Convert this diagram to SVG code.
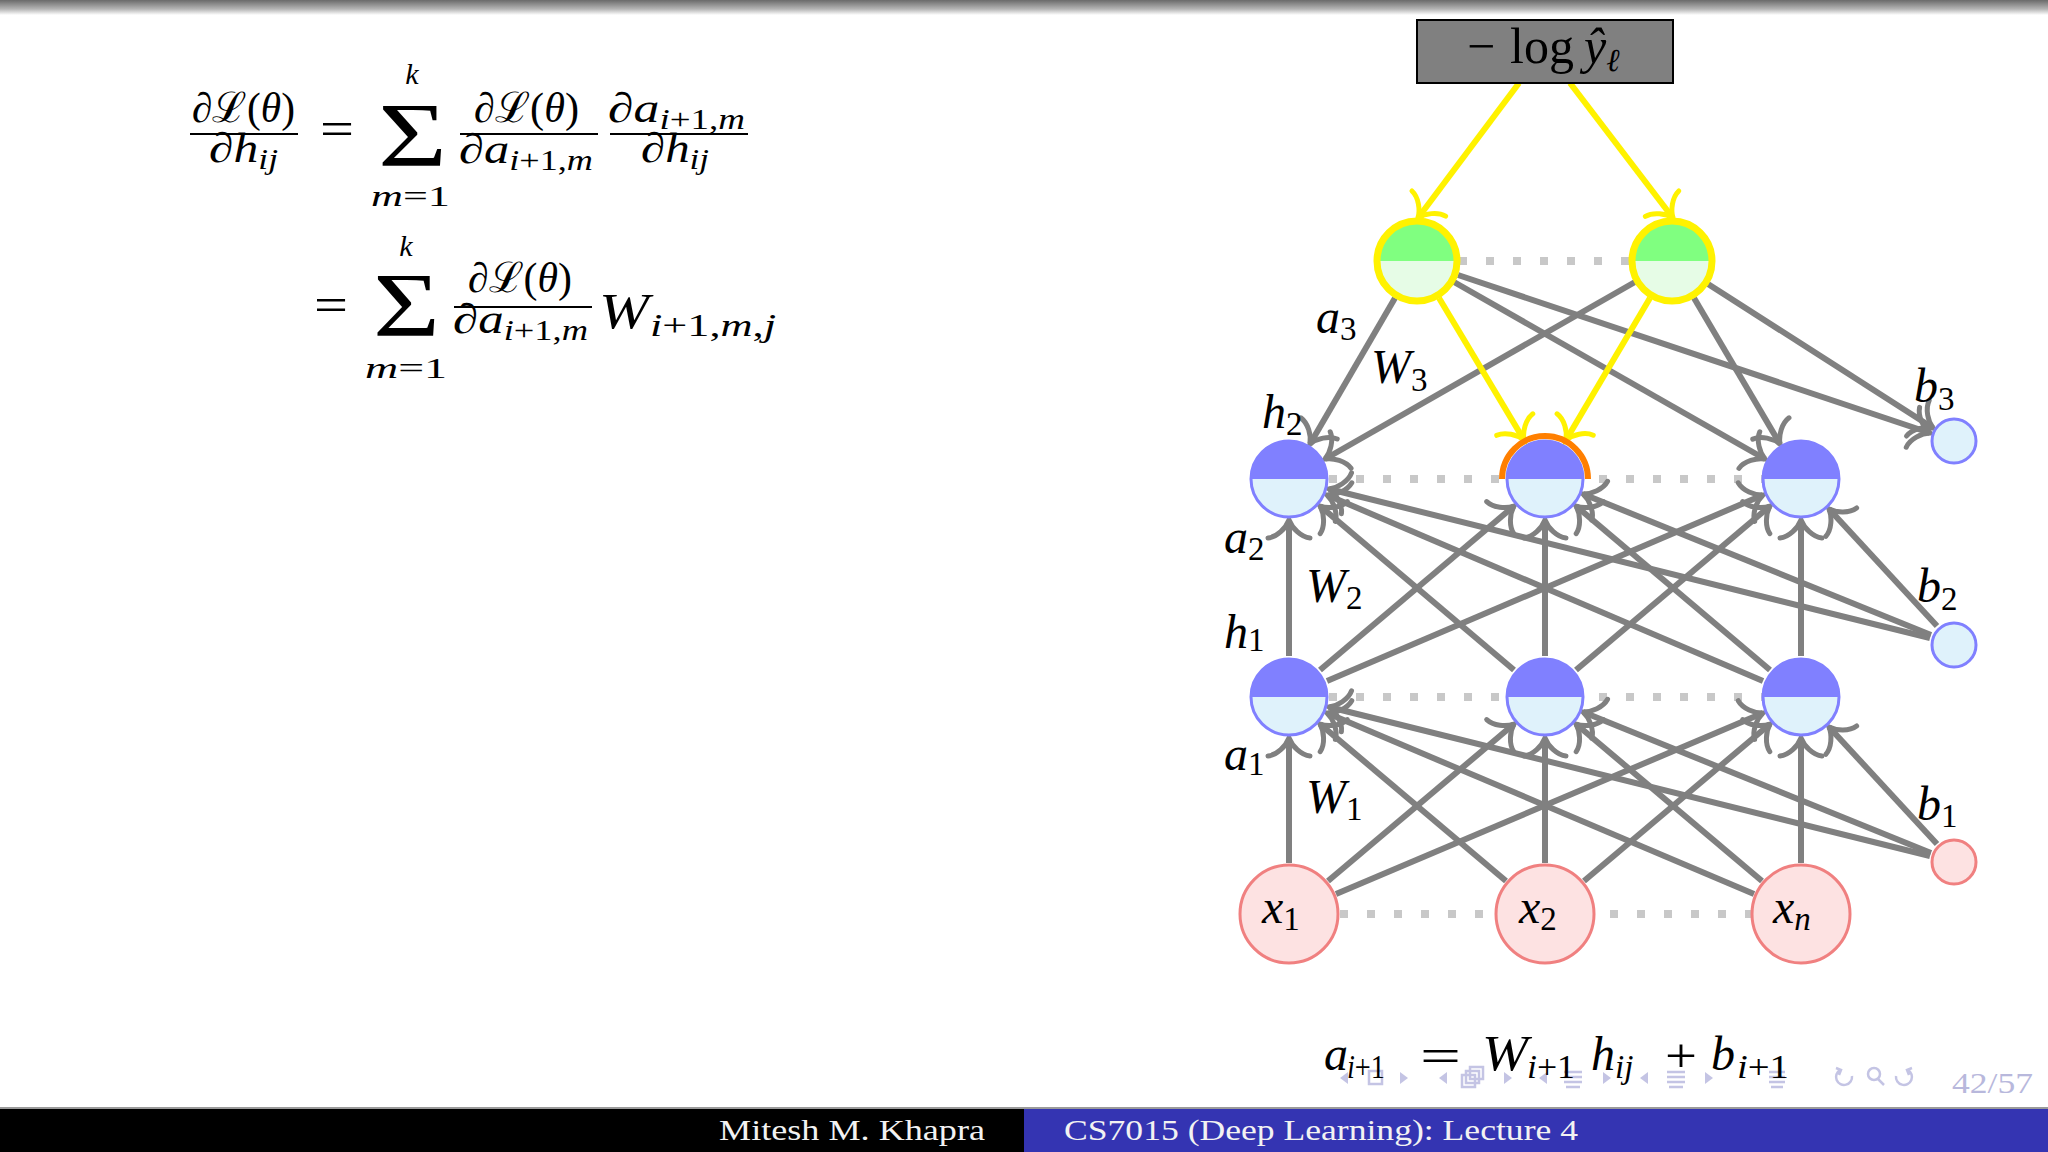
<svg xmlns="http://www.w3.org/2000/svg" width="2048" height="1152" viewBox="0 0 2048 1152">
<defs>
<style>
.t{font-family:"Liberation Serif","DejaVu Serif",serif;fill:#000}
.i{font-style:italic}
.e{stroke:#808080;stroke-width:6;fill:none;marker-end:url(#ag)}
.y{stroke:#fff200;stroke-width:6;fill:none;marker-end:url(#ay)}
.d{stroke:#c8c8c8;stroke-width:8;stroke-dasharray:8 19;fill:none}
.nav{fill:none;stroke:#c4c4e4;stroke-width:2.5}
.navf{fill:#c4c4e4}
.ft{font-family:"Liberation Serif","DejaVu Serif",serif;fill:#f2f2f2;font-size:29px}
.bar{stroke:#000;stroke-width:2}
</style>
<linearGradient id="topg" x1="0" y1="0" x2="0" y2="1">
<stop offset="0" stop-color="#6a6a6a"/>
<stop offset="0.6" stop-color="#b4b4b4"/>
<stop offset="1" stop-color="#ffffff"/>
</linearGradient>
<marker id="ag" markerUnits="userSpaceOnUse" viewBox="-24 -26 28 52" refX="0" refY="0" markerWidth="28" markerHeight="52" orient="auto" overflow="visible">
<path d="M-18,-21 C-17,-12 -8,-3 0,0 C-8,3 -17,12 -18,21" fill="none" stroke="#808080" stroke-width="5" stroke-linecap="round"/>
</marker>
<marker id="ay" markerUnits="userSpaceOnUse" viewBox="-24 -26 28 52" refX="0" refY="0" markerWidth="28" markerHeight="52" orient="auto" overflow="visible">
<path d="M-18,-21 C-17,-12 -8,-3 0,0 C-8,3 -17,12 -18,21" fill="none" stroke="#fff200" stroke-width="5" stroke-linecap="round"/>
</marker>
<g id="hn">
<circle r="38" fill="#dff2fb"/>
<path d="M-38,0 A38,38 0 0 1 38,0 Z" fill="#8080ff"/>
<circle r="38" fill="none" stroke="#8080ff" stroke-width="3"/>
</g>
<g id="gn">
<circle r="40" fill="#e6fce6"/>
<path d="M-40,0 A40,40 0 0 1 40,0 Z" fill="#80ff80"/>
<circle r="40" fill="none" stroke="#fff200" stroke-width="7"/>
</g>
<circle id="xn" r="49" fill="#fde2e2" stroke="#f08080" stroke-width="3"/>
<circle id="bb" r="22" fill="#dff2fb" stroke="#8080ff" stroke-width="3"/>
<circle id="bp" r="22" fill="#fde2e2" stroke="#f08080" stroke-width="3"/>
</defs>

<rect width="2048" height="1152" fill="#ffffff"/>
<rect x="0" y="0" width="2048" height="15" fill="url(#topg)"/>

<!-- formula -->
<g id="formula">
<text class="t" x="192" y="122" font-size="42" textLength="103" lengthAdjust="spacingAndGlyphs">∂ℒ(<tspan class="i">θ</tspan>)</text>
<line class="bar" x1="190" y1="134" x2="298" y2="134"/>
<text class="t" x="209" y="162" font-size="42" textLength="69" lengthAdjust="spacingAndGlyphs">∂<tspan class="i">h</tspan><tspan class="i" font-size="30" dy="7">ij</tspan></text>
<text class="t" x="320" y="145" font-size="48" textLength="34" lengthAdjust="spacingAndGlyphs">=</text>
<text class="t" x="378" y="166" font-size="92" textLength="69" lengthAdjust="spacingAndGlyphs">Σ</text>
<text class="t i" x="412" y="84" text-anchor="middle" font-size="30">k</text>
<text class="t" x="371" y="206" font-size="30" textLength="79" lengthAdjust="spacingAndGlyphs"><tspan class="i">m</tspan>=1</text>
<text class="t" x="474" y="122" font-size="42" textLength="105" lengthAdjust="spacingAndGlyphs">∂ℒ(<tspan class="i">θ</tspan>)</text>
<line class="bar" x1="460" y1="134" x2="598" y2="134"/>
<text class="t" x="459" y="163" font-size="42" textLength="134" lengthAdjust="spacingAndGlyphs">∂<tspan class="i">a</tspan><tspan font-size="30" dy="7"><tspan class="i">i</tspan>+1,<tspan class="i">m</tspan></tspan></text>
<text class="t" x="608" y="122" font-size="42" textLength="137" lengthAdjust="spacingAndGlyphs">∂<tspan class="i">a</tspan><tspan font-size="30" dy="7"><tspan class="i">i</tspan>+1,<tspan class="i">m</tspan></tspan></text>
<line class="bar" x1="610" y1="134" x2="748" y2="134"/>
<text class="t" x="641" y="162" font-size="42" textLength="68" lengthAdjust="spacingAndGlyphs">∂<tspan class="i">h</tspan><tspan class="i" font-size="30" dy="7">ij</tspan></text>

<text class="t" x="314" y="321" font-size="48" textLength="34" lengthAdjust="spacingAndGlyphs">=</text>
<text class="t" x="373" y="336" font-size="92" textLength="67" lengthAdjust="spacingAndGlyphs">Σ</text>
<text class="t i" x="406" y="256" text-anchor="middle" font-size="30">k</text>
<text class="t" x="365" y="378" font-size="30" textLength="82" lengthAdjust="spacingAndGlyphs"><tspan class="i">m</tspan>=1</text>
<text class="t" x="468" y="292" font-size="42" textLength="104" lengthAdjust="spacingAndGlyphs">∂ℒ(<tspan class="i">θ</tspan>)</text>
<line class="bar" x1="454" y1="307" x2="592" y2="307"/>
<text class="t" x="453" y="333" font-size="42" textLength="135" lengthAdjust="spacingAndGlyphs">∂<tspan class="i">a</tspan><tspan font-size="30" dy="7"><tspan class="i">i</tspan>+1,<tspan class="i">m</tspan></tspan></text>
<text class="t i" x="599" y="328" font-size="50" textLength="50" lengthAdjust="spacingAndGlyphs">W</text>
<text class="t" x="650" y="336" font-size="32" textLength="126" lengthAdjust="spacingAndGlyphs"><tspan class="i">i</tspan>+1,<tspan class="i">m</tspan>,<tspan class="i">j</tspan></text>
</g>

<!-- dotted layer lines -->
<g id="dots">
<line class="d" x1="1459" y1="261" x2="1632" y2="261"/>
<line class="d" x1="1329" y1="479" x2="1762" y2="479"/>
<line class="d" x1="1329" y1="697" x2="1762" y2="697"/>
<line class="d" x1="1340" y1="914" x2="1752" y2="914"/>
</g>

<!-- connectors -->
<g id="connectors">
<line class="e" x1="1395" y1="298" x2="1310" y2="444"/>
<line class="e" x1="1454" y1="282" x2="1765" y2="459"/>
<line class="e" x1="1458" y1="275" x2="1930" y2="433"/>
<line class="e" x1="1635" y1="282" x2="1325" y2="459"/>
<line class="e" x1="1694" y1="298" x2="1780" y2="444"/>
<line class="e" x1="1708" y1="284" x2="1933" y2="428"/>
<line class="e" x1="1289" y1="656" x2="1289" y2="520"/>
<line class="e" x1="1320" y1="670" x2="1514" y2="506"/>
<line class="e" x1="1327" y1="681" x2="1763" y2="495"/>
<line class="e" x1="1514" y1="670" x2="1320" y2="506"/>
<line class="e" x1="1545" y1="656" x2="1545" y2="520"/>
<line class="e" x1="1576" y1="670" x2="1770" y2="506"/>
<line class="e" x1="1763" y1="681" x2="1327" y2="495"/>
<line class="e" x1="1770" y1="670" x2="1576" y2="506"/>
<line class="e" x1="1801" y1="656" x2="1801" y2="520"/>
<line class="e" x1="1930" y1="638" x2="1329" y2="489"/>
<line class="e" x1="1931" y1="635" x2="1583" y2="494"/>
<line class="e" x1="1937" y1="626" x2="1829" y2="509"/>
<line class="e" x1="1289" y1="863" x2="1289" y2="738"/>
<line class="e" x1="1328" y1="881" x2="1514" y2="724"/>
<line class="e" x1="1336" y1="894" x2="1763" y2="713"/>
<line class="e" x1="1506" y1="881" x2="1320" y2="724"/>
<line class="e" x1="1545" y1="863" x2="1545" y2="738"/>
<line class="e" x1="1584" y1="881" x2="1770" y2="724"/>
<line class="e" x1="1754" y1="894" x2="1327" y2="713"/>
<line class="e" x1="1762" y1="881" x2="1576" y2="724"/>
<line class="e" x1="1801" y1="863" x2="1801" y2="738"/>
<line class="e" x1="1930" y1="856" x2="1329" y2="707"/>
<line class="e" x1="1931" y1="853" x2="1583" y2="712"/>
<line class="e" x1="1937" y1="844" x2="1829" y2="727"/>
<line class="y" x1="1519" y1="83" x2="1418" y2="218"/>
<line class="y" x1="1570" y1="83" x2="1673" y2="218"/>
<line class="y" x1="1439" y1="298" x2="1524" y2="440"/>
<line class="y" x1="1650" y1="298" x2="1566" y2="440"/>
</g>

<!-- loss box -->
<g id="loss">
<rect x="1417" y="20" width="256" height="63" fill="#808080" stroke="#000" stroke-width="2"/>
<text class="t" x="1467" y="63" font-size="50">−<tspan x="1510">log</tspan><tspan class="i" x="1584">ŷ</tspan><tspan class="i" font-size="32" dy="8">ℓ</tspan></text>
</g>

<!-- nodes -->
<g id="o1"><use href="#gn" x="1417" y="261"/></g>
<g id="o2"><use href="#gn" x="1672" y="261"/></g>
<g id="h2_1"><use href="#hn" x="1289" y="479"/></g>
<g id="h2_2"><use href="#hn" x="1545" y="479"/><path d="M1502,479 A43,43 0 0 1 1588,479" fill="none" stroke="#ff7f00" stroke-width="6"/></g>
<g id="h2_3"><use href="#hn" x="1801" y="479"/></g>
<g id="h1_1"><use href="#hn" x="1289" y="697"/></g>
<g id="h1_2"><use href="#hn" x="1545" y="697"/></g>
<g id="h1_3"><use href="#hn" x="1801" y="697"/></g>
<g id="x1"><use href="#xn" x="1289" y="914"/><text class="t" x="1262" y="923" font-size="48"><tspan class="i">x</tspan><tspan font-size="33" dy="7">1</tspan></text></g>
<g id="x2"><use href="#xn" x="1545" y="914"/><text class="t" x="1519" y="923" font-size="48"><tspan class="i">x</tspan><tspan font-size="33" dy="7">2</tspan></text></g>
<g id="xnn"><use href="#xn" x="1801" y="914"/><text class="t" x="1773" y="923" font-size="48"><tspan class="i">x</tspan><tspan class="i" font-size="33" dy="7">n</tspan></text></g>
<g id="b3"><use href="#bb" x="1954" y="441"/></g>
<g id="b2"><use href="#bb" x="1954" y="645"/></g>
<g id="b1"><use href="#bp" x="1954" y="862"/></g>

<!-- labels -->
<g id="labels">
<text class="t" x="1316" y="333" font-size="48"><tspan class="i">a</tspan><tspan font-size="33" dy="7">3</tspan></text>
<text class="t" x="1371" y="383" font-size="48"><tspan class="i">W</tspan><tspan font-size="33" dy="8">3</tspan></text>
<text class="t" x="1262" y="428" font-size="48"><tspan class="i">h</tspan><tspan font-size="33" dy="7">2</tspan></text>
<text class="t" x="1914" y="402" font-size="48"><tspan class="i">b</tspan><tspan font-size="33" dy="8">3</tspan></text>
<text class="t" x="1224" y="553" font-size="48"><tspan class="i">a</tspan><tspan font-size="33" dy="7">2</tspan></text>
<text class="t" x="1306" y="602" font-size="48"><tspan class="i">W</tspan><tspan font-size="33" dy="7">2</tspan></text>
<text class="t" x="1224" y="648" font-size="48"><tspan class="i">h</tspan><tspan font-size="33" dy="3">1</tspan></text>
<text class="t" x="1917" y="602" font-size="48"><tspan class="i">b</tspan><tspan font-size="33" dy="8">2</tspan></text>
<text class="t" x="1224" y="770" font-size="48"><tspan class="i">a</tspan><tspan font-size="33" dy="5">1</tspan></text>
<text class="t" x="1306" y="813" font-size="48"><tspan class="i">W</tspan><tspan font-size="33" dy="7">1</tspan></text>
<text class="t" x="1917" y="820" font-size="48"><tspan class="i">b</tspan><tspan font-size="33" dy="7">1</tspan></text>
</g>

<!-- navigation symbols (faint) -->
<g id="nav">
<polygon class="navf" points="1348,1072 1340,1078 1348,1084"/>
<rect class="nav" x="1369" y="1071" width="13" height="13"/>
<polygon class="navf" points="1400,1072 1408,1078 1400,1084"/>
<polygon class="navf" points="1447,1072 1439,1078 1447,1084"/>
<rect class="nav" x="1462" y="1075" width="13" height="12"/>
<rect class="nav" x="1466" y="1071" width="13" height="12"/>
<rect class="nav" x="1470" y="1067" width="13" height="12"/>
<polygon class="navf" points="1504,1072 1512,1078 1504,1084"/>
<polygon class="navf" points="1547,1072 1539,1078 1547,1084"/>
<path class="nav" d="M1564,1072 H1582 M1564,1077 H1582 M1564,1082 H1582 M1566,1087 H1580"/>
<polygon class="navf" points="1603,1072 1611,1078 1603,1084"/>
<polygon class="navf" points="1648,1072 1640,1078 1648,1084"/>
<path class="nav" d="M1667,1072 H1685 M1667,1077 H1685 M1667,1082 H1685 M1669,1087 H1683"/>
<polygon class="navf" points="1705,1072 1713,1078 1705,1084"/>
<path class="nav" d="M1769,1072 H1785 M1769,1077 H1785 M1769,1082 H1785 M1771,1087 H1783"/>
<path class="nav" d="M1840,1070 A8,8 0 1 0 1852,1076 M1836,1068 L1841,1070 L1839,1075"/>
<circle class="nav" cx="1874" cy="1074" r="6"/>
<path class="nav" d="M1878,1079 L1884,1085"/>
<path class="nav" d="M1908,1070 A8,8 0 1 1 1896,1076 M1912,1068 L1907,1070 L1909,1075"/>
<text x="1952" y="1093" font-family="Liberation Serif, DejaVu Serif, serif" font-size="29" fill="#b8b8dc" textLength="81" lengthAdjust="spacingAndGlyphs">42/57</text>
</g>

<!-- bottom equation -->
<g id="equation">
<text class="t i" x="1324" y="1070" font-size="48">a</text>
<text class="t" x="1347" y="1078" font-size="33" textLength="38" lengthAdjust="spacingAndGlyphs"><tspan class="i">i</tspan>+1</text>
<text class="t" x="1420" y="1072" font-size="48" textLength="41" lengthAdjust="spacingAndGlyphs">=</text>
<text class="t i" x="1482" y="1070" font-size="50" textLength="46" lengthAdjust="spacingAndGlyphs">W</text>
<text class="t" x="1527" y="1078" font-size="33" textLength="48" lengthAdjust="spacingAndGlyphs"><tspan class="i">i</tspan>+1</text>
<text class="t i" x="1591" y="1070" font-size="48">h</text>
<text class="t i" x="1615" y="1078" font-size="33">ij</text>
<text class="t" x="1665" y="1072" font-size="48" textLength="32" lengthAdjust="spacingAndGlyphs">+</text>
<text class="t i" x="1711" y="1070" font-size="48">b</text>
<text class="t" x="1737" y="1078" font-size="33" textLength="52" lengthAdjust="spacingAndGlyphs"><tspan class="i">i</tspan>+1</text>
</g>

<!-- footer -->
<g id="footer">
<rect x="0" y="1107" width="2048" height="2" fill="#9a9a9a"/>
<rect x="0" y="1109" width="1024" height="43" fill="#000000"/>
<rect x="1024" y="1109" width="1024" height="43" fill="#3434b2"/>
<text class="ft" x="719" y="1140" textLength="266" lengthAdjust="spacingAndGlyphs">Mitesh M. Khapra</text>
<text class="ft" x="1064" y="1140" textLength="514" lengthAdjust="spacingAndGlyphs">CS7015 (Deep Learning): Lecture 4</text>
</g>
</svg>
